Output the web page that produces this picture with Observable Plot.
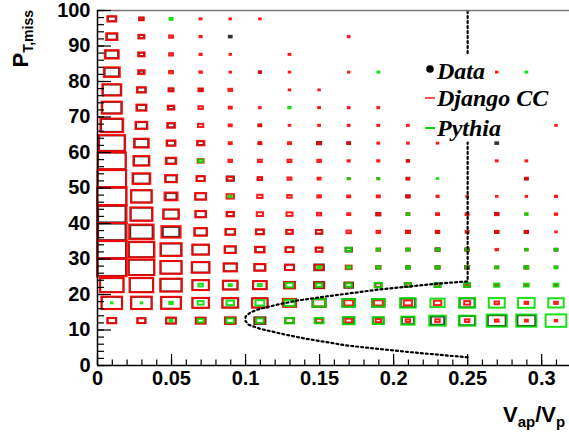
<!DOCTYPE html>
<html><head><meta charset="utf-8">
<script src="https://cdn.jsdelivr.net/npm/d3@7"></script>
<script src="https://cdn.jsdelivr.net/npm/@observablehq/plot@0.6"></script>
<style>
html,body{margin:0;padding:0;background:#fff;overflow:hidden}
#chart{position:relative;width:569px;height:437px}
</style></head><body><div id="chart"></div>
<script>
// bin centres
const xCenters = [0.01,0.03,0.05,0.07,0.09,0.11,0.13,0.15,0.17,0.19,0.21,0.23,0.25,0.27,0.29,0.31];
const yCenters = [97.5,92.5,87.5,82.5,77.5,72.5,67.5,62.5,57.5,52.5,47.5,42.5,37.5,32.5,27.5,22.5,17.5,12.5];
const xBinWidth = 0.02, yBinWidth = 5;

// box size (% of bin) per cell, rows top -> bottom
const dataBox = [
 [26,14,0,0,0,0,0,0,0,0,0,0,0,0,0,0],
 [33,18,0,0,10,0,0,0,0,0,0,0,0,0,0,0],
 [42,18,0,0,0,0,0,0,0,0,0,0,0,0,0,0],
 [48,15,0,0,0,8,0,0,0,0,0,0,0,0,0,0],
 [60,26,14,12,0,0,0,0,0,0,0,0,0,0,0,0],
 [64,30,18,0,0,0,0,0,0,0,0,0,0,0,0,0],
 [72,36,22,0,0,10,0,0,0,0,0,0,0,0,0,0],
 [86,45,26,20,0,8,0,14,10,0,0,0,0,10,0,0],
 [93,50,30,0,0,0,0,0,0,0,8,0,0,0,0,0],
 [95,55,36,27,25,14,0,0,0,0,10,0,0,0,10,0],
 [97,68,36,35,0,0,0,0,0,0,12,0,0,0,0,0],
 [92,72,50,33,22,0,0,0,0,14,0,0,0,12,0,0],
 [92,75,55,40,30,25,20,22,0,0,12,12,0,12,12,0],
 [95,84,68,55,35,28,25,22,22,0,0,14,12,0,0,10],
 [95,85,70,58,43,35,30,33,0,0,12,12,14,0,12,0],
 [78,78,70,55,48,46,36,35,30,22,22,20,20,0,0,0],
 [68,68,65,55,52,52,40,45,42,42,48,0,50,0,0,0],
 [28,26,32,32,35,38,28,26,36,35,40,45,52,60,60,0]
];
const djangoBox = [
 [30,15,0,6,5,5,0,0,0,0,0,0,0,0,0,0],
 [38,20,13,7,0,0,0,0,6,0,0,0,0,0,0,0],
 [47,22,13,7,5,0,6,0,0,0,0,0,0,0,0,0],
 [54,22,13,8,5,6,5,0,5,0,0,0,0,5,0,0],
 [64,30,17,15,12,0,5,5,0,0,0,0,0,0,0,0],
 [68,34,22,15,10,6,0,6,6,6,0,0,0,0,0,0],
 [77,40,26,18,10,8,5,6,6,6,6,0,0,0,0,5],
 [90,50,30,25,10,10,10,10,8,6,6,5,0,0,0,0],
 [95,54,35,20,12,13,13,12,7,7,7,0,0,6,6,0],
 [97,60,40,27,20,15,13,10,6,6,8,0,0,0,8,0],
 [100,70,44,37,25,18,15,12,10,10,10,7,5,5,5,7],
 [100,75,53,36,25,21,20,14,10,12,10,10,10,10,6,8],
 [100,83,65,43,33,27,22,20,15,12,13,10,10,10,10,5],
 [100,88,72,56,38,32,27,23,18,12,12,12,12,8,8,8],
 [100,88,72,60,45,38,30,28,20,15,12,14,12,10,12,8],
 [80,80,73,56,50,45,36,30,25,20,18,15,12,10,10,10],
 [70,70,68,56,54,52,45,40,30,30,28,25,20,15,12,12],
 [30,28,33,33,36,30,28,22,22,18,15,15,15,12,10,8]
];
const pythiaBox = [
 [0,0,10,0,0,0,0,0,0,0,0,0,0,0,0,0],
 [0,0,0,0,0,0,0,0,0,0,0,0,0,0,0,0],
 [0,0,0,0,0,0,0,0,0,0,0,0,0,0,0,0],
 [0,0,0,0,0,0,0,0,0,6,0,0,0,0,6,0],
 [0,0,0,0,0,0,0,0,0,0,0,0,0,0,0,0],
 [0,0,0,0,0,0,8,0,0,0,0,0,0,0,0,0],
 [0,0,0,0,0,0,0,0,0,0,0,0,0,0,0,0],
 [0,0,0,0,0,0,0,0,0,0,0,0,0,0,0,0],
 [0,0,0,15,0,0,0,0,0,0,0,0,0,0,0,0],
 [0,0,0,0,0,0,0,0,6,6,0,5,0,0,0,0],
 [0,0,0,0,10,0,0,0,0,0,0,0,0,0,0,0],
 [0,0,0,0,0,0,0,0,0,0,8,0,0,0,8,0],
 [0,0,0,0,0,0,0,0,0,0,0,0,0,0,0,0],
 [0,0,0,0,0,0,0,0,18,10,10,10,10,0,8,8],
 [0,0,0,0,0,0,0,12,12,12,12,12,10,10,12,10],
 [0,0,0,15,10,12,25,20,20,25,20,20,20,18,16,16],
 [5,5,12,20,25,30,35,42,43,43,53,48,54,54,56,52],
 [0,0,10,20,25,25,30,30,40,38,45,56,56,68,68,70]
];

// dotted contour (NaN = gap behind legend)
const contourX = [0.25,0.21,0.169,0.14,0.128,0.11,0.102,0.1,0.1,0.1035,0.11,0.121,0.135,0.157,0.19,0.228,0.25,0.25,0.25,0.25,0.25];
const contourY = [2.3,3.8,5.6,7.6,8.6,10.3,11.5,12.5,13.8,15,16,17.1,18.3,19.6,21.4,23,23.7,62.8,NaN,88,100];

const xTicks = [0,0.05,0.1,0.15,0.2,0.25,0.3];
const xTickLabels = ["0","0.05","0.1","0.15","0.2","0.25","0.3"];
const yTicks = [0,10,20,30,40,50,60,70,80,90,100];
const yTickLabels = ["0","10","20","30","40","50","60","70","80","90","100"];

const seriesNames = ["Data","Django CC","Pythia"];
const seriesColors = ["#111111","#ff0000","#00dd00"];

function cells(matrix) {
  const out = [];
  matrix.forEach((row, r) => row.forEach((v, c) => {
    if (v > 0) out.push({x: xCenters[c], y: yCenters[r], v});
  }));
  return out;
}
const boxOpts = (color, w, op) => ({
  x1: d => d.x - d.v / 100 * xBinWidth / 2,
  x2: d => d.x + d.v / 100 * xBinWidth / 2,
  y1: d => d.y - d.v / 100 * yBinWidth / 2,
  y2: d => d.y + d.v / 100 * yBinWidth / 2,
  fill: "none", stroke: color, strokeWidth: w, strokeOpacity: op
});

const contour = contourX.map((x, i) => ({x, y: contourY[i]}));
const xTickData = xTicks.map((v, i) => ({v, label: xTickLabels[i]}));
const yTickData = yTicks.map((v, i) => ({v, label: yTickLabels[i]}));
const xMinor = d3.range(0, 0.3195, 0.01);
const yMinor = d3.range(0, 100.1, 2);

const frameH = 355, frameW = 472;

const svg = Plot.plot({
  width: 569, height: 437,
  marginLeft: 97, marginRight: 0, marginTop: 10, marginBottom: 72,
  x: {domain: [0, 0.3188], axis: null},
  y: {domain: [0, 100], axis: null},
  style: {fontFamily: "Liberation Sans, Arial, sans-serif", background: "white"},
  marks: [
    Plot.rect(cells(dataBox), boxOpts(seriesColors[0], 1.8, 0.85)),
    Plot.rect(cells(djangoBox), boxOpts(seriesColors[1], 2, 0.9)),
    Plot.rect(cells(pythiaBox), boxOpts(seriesColors[2], 2, 0.9)),
    Plot.line(contour, {x: "x", y: "y", stroke: "black", strokeWidth: 2.2, strokeDasharray: "2,3"}),
    Plot.ruleY([100], {stroke: "#777", strokeWidth: 1.5}),
    Plot.ruleX([0], {stroke: "black", strokeWidth: 1.5}),
    Plot.ruleY([0], {stroke: "black", strokeWidth: 1.5}),
    Plot.tickX(xMinor, {x: d => d, insetTop: frameH - 5.5, stroke: "black", strokeWidth: 1.2}),
    Plot.tickX(xTicks, {x: d => d, insetTop: frameH - 11, stroke: "black", strokeWidth: 1.2}),
    Plot.tickY(yMinor, {y: d => d, insetRight: frameW - 7, stroke: "black", strokeWidth: 1.2}),
    Plot.tickY(yTicks, {y: d => d, insetRight: frameW - 14, stroke: "black", strokeWidth: 1.2}),
    Plot.text(xTickData, {x: "v", text: "label", frameAnchor: "bottom", lineAnchor: "top", dy: 5, fontSize: 20, fontWeight: "bold", fill: "black"}),
    Plot.text(yTickData, {y: "v", text: "label", frameAnchor: "left", textAnchor: "end", dx: -7, fontSize: 20, fontWeight: "bold", fill: "black"})
  ]
});

const s = d3.select(svg);
// y title
const yt = s.append("text")
  .attr("transform", "translate(28,10) rotate(-90)")
  .attr("text-anchor", "end")
  .style("font-family", "Liberation Sans, Arial, sans-serif")
  .style("font-weight", "bold").style("font-size", "22px").attr("fill", "black");
yt.append("tspan").text("P");
yt.append("tspan").attr("dy", 5).style("font-size", "14px").text("T,miss");
// x title
const xt = s.append("text")
  .attr("x", 503).attr("y", 422)
  .attr("text-anchor", "start")
  .style("font-family", "Liberation Sans, Arial, sans-serif")
  .style("font-weight", "bold").style("font-size", "22px").attr("fill", "black");
xt.append("tspan").text("V");
xt.append("tspan").attr("dy", 5).style("font-size", "15px").text("ap");
xt.append("tspan").attr("dy", -5).text("/V");
xt.append("tspan").attr("dy", 5).style("font-size", "15px").text("p");

// legend
const lg = s.append("g").attr("text-anchor", "start")
  .style("font-family", "Liberation Serif, Times New Roman, serif")
  .style("font-weight", "bold").style("font-style", "italic").style("font-size", "24px");
lg.append("circle").attr("cx", 430).attr("cy", 69).attr("r", 3.8).attr("fill", "black");
lg.append("line").attr("x1", 425).attr("x2", 435).attr("y1", 98).attr("y2", 98).attr("stroke", "#ff5555").attr("stroke-width", 2);
lg.append("line").attr("x1", 425).attr("x2", 435).attr("y1", 128).attr("y2", 128).attr("stroke", seriesColors[2]).attr("stroke-width", 2);
[[79, 0], [106, 1], [136, 2]].forEach(([y, i]) => {
  lg.append("text").attr("x", 437).attr("y", y).attr("text-anchor", "start").attr("fill", "black").text(seriesNames[i]);
});

document.getElementById("chart").appendChild(svg);
</script></body></html>
